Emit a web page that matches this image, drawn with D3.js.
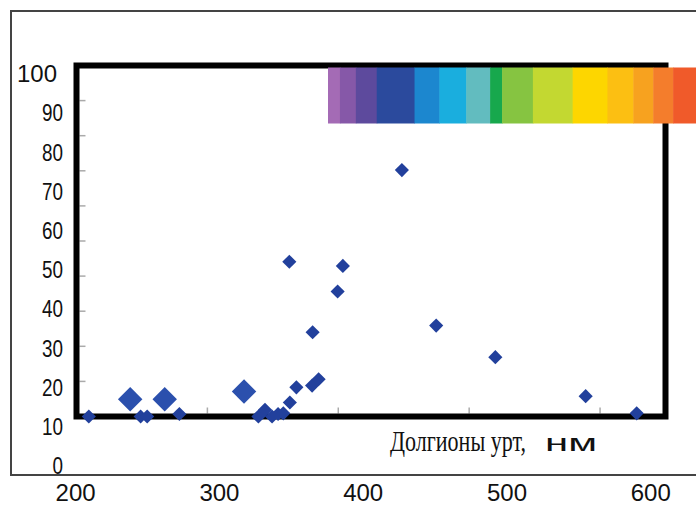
<!DOCTYPE html>
<html><head><meta charset="utf-8">
<script src="https://cdn.jsdelivr.net/npm/d3@7"></script>
<style>html,body{margin:0;padding:0;background:#fff;overflow:hidden}</style>
</head><body><svg id="c" width="696" height="506"></svg>
<script>
// ---- data ----
const smallX = [209.4, 249, 254, 278.6, 339, 344, 349.4, 354, 358, 363, 368, 380, 385, 380.4, 399.5, 403.5, 362.6, 448.6, 474.8, 520, 589, 628];
const smallY = [0, 0, 0, 0.7, 0, 1.9, 0, 0.7, 0.9, 4.0, 8.3, 8.8, 10.6, 24.0, 35.6, 42.9, 44.1, 70.2, 25.9, 16.9, 5.8, 0.9];
const largeX = [241, 267.4, 328];
const largeY = [4.9, 4.9, 7.1];
const xTickLabels = [200, 300, 400, 500, 600];
const yTickLabels = [100, 90, 80, 70, 60, 50, 40, 30, 20, 10, 0];
const spectrumStops = [380, 392, 408, 429, 467, 492, 519, 543, 555, 586, 626, 661, 687, 707, 727, 750];
const spectrumColors = ["#a46bb5", "#8658a8", "#5d4a9d", "#2b4a9d", "#1c87cf", "#1aaede", "#62bcbf", "#17a84d", "#86c441", "#c3d831", "#fdd600", "#fcbf12", "#f7a21f", "#f47d2c", "#f05a2a"];
const xTitle = "Долгионы урт,";
const xUnit = "нм";

// ---- layout ----
const svg = d3.select("#c");
const x = d3.scaleLinear().domain([200, 650]).range([76.5, 665.5]);
const y = d3.scaleLinear().domain([0, 100]).range([416.5, 65.5]);
const xLab = d3.scaleLinear().domain([200, 600]).range([75.6, 650.8]);
const yLab = d3.scaleLinear().domain([0, 100]).range([466, 74]);
const spec = d3.scaleLinear().domain([380, 750]).range([328, 696]);

// outer frame
svg.append("rect").attr("x", 11).attr("y", 11).attr("width", 700).attr("height", 464)
  .attr("fill", "none").attr("stroke", "#444").attr("stroke-width", 2);

// inner ticks
svg.append("g").selectAll("line").data(x.ticks(5).filter(d => d > 200)).join("line")
  .attr("x1", d => x(d)).attr("x2", d => x(d)).attr("y1", y(0) - 3).attr("y2", y(0) - 9)
  .attr("stroke", "#aaa").attr("stroke-width", 1.5);
svg.append("g").selectAll("line").data(y.ticks(10).filter(d => d > 0 && d < 100)).join("line")
  .attr("x1", x(200) + 3).attr("x2", x(200) + 9).attr("y1", d => y(d)).attr("y2", d => y(d))
  .attr("stroke", "#aaa").attr("stroke-width", 1.5);

// plot box
svg.append("rect").attr("x", x(200)).attr("y", y(100)).attr("width", x(650) - x(200)).attr("height", y(0) - y(100))
  .attr("fill", "none").attr("stroke", "#000").attr("stroke-width", 6);

// spectrum bar
const specData = spectrumColors.map((c, i) => ({c, a: spectrumStops[i], b: spectrumStops[i + 1]}));
svg.append("g").selectAll("rect").data(specData).join("rect")
  .attr("x", d => spec(d.a)).attr("width", d => spec(d.b) - spec(d.a) + 0.5)
  .attr("y", 67.5).attr("height", 56).attr("fill", d => d.c);

// points
const sq = d3.symbol().type(d3.symbolSquare);
const small = smallX.map((v, i) => [v, smallY[i]]);
const large = largeX.map((v, i) => [v, largeY[i]]);
svg.append("g").selectAll("path").data(large).join("path")
  .attr("d", sq.size(300)()).attr("fill", "#2b50ad")
  .attr("transform", d => `translate(${x(d[0])},${y(d[1])}) rotate(45)`);
svg.append("g").selectAll("path").data(small).join("path")
  .attr("d", sq.size(100)()).attr("fill", "#22409c")
  .attr("transform", d => `translate(${x(d[0])},${y(d[1])}) rotate(45)`);

// y labels
svg.append("g").selectAll("text").data(yTickLabels).join("text")
  .attr("x", d => d === 100 ? 17 : 63).attr("y", d => yLab(d)).attr("dy", "0.36em")
  .attr("text-anchor", d => d === 100 ? "start" : "end")
  .attr("textLength", d => d === 100 ? 40 : String(d).length * 10.5)
  .attr("lengthAdjust", "spacingAndGlyphs")
  .attr("font-family", "Liberation Sans, Arial, sans-serif").attr("font-size", 23).attr("fill", "#111")
  .text(d => d);

// x labels
svg.append("g").selectAll("text").data(xTickLabels).join("text")
  .attr("x", d => xLab(d)).attr("y", 501).attr("text-anchor", "middle")
  .attr("font-family", "Liberation Sans, Arial, sans-serif").attr("font-size", 24).attr("fill", "#111")
  .text(d => d);

// axis title: squeeze horizontally with a transform so boxes stay true
function squeezed(txt, x0, y0, width, family, size) {
  const el = svg.append("text").attr("font-family", family).attr("font-size", size).attr("fill", "#111").text(txt);
  const natural = el.node().getComputedTextLength();
  el.attr("transform", `translate(${x0},${y0}) scale(${width / natural},1)`);
}
squeezed(xTitle, 390, 451, 136, "Liberation Serif, Times New Roman, serif", 29);
squeezed(xUnit, 545, 451, 52, "Liberation Sans, Arial, sans-serif", 24);
</script></body></html>
